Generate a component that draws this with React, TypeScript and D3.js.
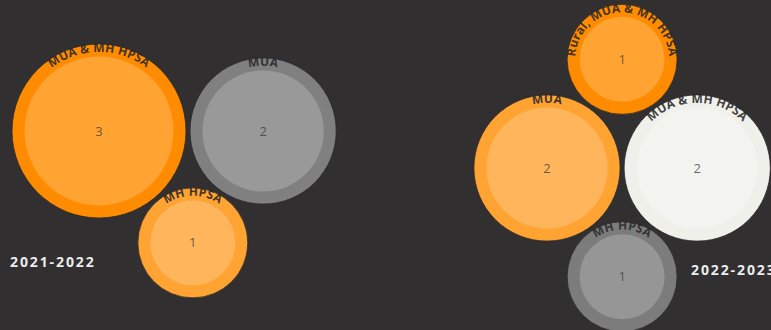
import React from "react";
import * as d3 from "d3";

// ---- data ----
const periods = ["2021-2022", "2022-2023"];
const categories2021 = ["MUA & MH HPSA", "MUA", "MH HPSA"];
const values2021 = [3, 2, 1];
const categories2022 = ["MUA", "MUA & MH HPSA", "MH HPSA", "Rural, MUA & MH HPSA"];
const values2022 = [2, 2, 1, 1];

// ---- styles ----
const palette2021 = ["#ff8c00", "#808080", "#ffa333"];
const palette2022 = ["#ffa333", "#f0f0eb", "#7c7c7c", "#ff8c00"];

const W = 771;
const H = 330;
const BG = "#312f30";
const PAD = 2;
const RING = 12.5;

const rScale = d3.scaleSqrt().domain([1, 3]).range([55, 87]);

type Node = { key: string; value: number; color: string; r: number; x: number; y: number };

function layout(cats: string[], vals: number[], colors: string[], ax: number, ay: number) {
  const nodes: any[] = cats.map((c, i) => ({ key: c, value: vals[i], color: colors[i], r: rScale(vals[i]) + PAD }));
  d3.packSiblings(nodes);
  const dx = ax - nodes[0].x;
  const dy = ay - nodes[0].y;
  return nodes.map((n) => ({ ...n, r: n.r - PAD, x: n.x + dx, y: n.y + dy })) as Node[];
}

function Bubble({ n, id }: { n: Node; id: string }) {
  const R = n.r - 8;
  const path = `M ${n.x},${n.y + R} A ${R},${R} 0 1 1 ${n.x},${n.y - R} A ${R},${R} 0 1 1 ${n.x},${n.y + R}`;
  return (
    <g>
      <circle cx={n.x} cy={n.y} r={n.r} fill={n.color} stroke="#2a2829" strokeWidth={0.8} />
      <circle cx={n.x} cy={n.y} r={n.r - RING} fill="#ffffff" fillOpacity={0.2} />
      <path id={id} d={path} fill="none" />
      <text fontFamily="'Open Sans', sans-serif" fontWeight={700} fontSize={12} letterSpacing={0.2} fill="#2a2829" fillOpacity={0.9}>
        <textPath href={`#${id}`} startOffset="50%" textAnchor="middle">
          {n.key}
        </textPath>
      </text>
      <text x={n.x} y={n.y} dy="0.35em" textAnchor="middle" fontFamily="'Open Sans', sans-serif" fontSize={13} fill="#3a3838" fillOpacity={0.75}>
        {n.value}
      </text>
    </g>
  );
}

export default function App() {
  const left = layout(categories2021, values2021, palette2021, 99, 131);
  const right = layout(categories2022, values2022, palette2022, 547, 168);
  return (
    <svg width={W} height={H} style={{ position: "absolute", left: 0, top: 0, display: "block" }}>
      <rect width={W} height={H} fill={BG} />
      {left.map((n, i) => (
        <Bubble key={"l" + i} n={n} id={"arcL" + i} />
      ))}
      {right.map((n, i) => (
        <Bubble key={"r" + i} n={n} id={"arcR" + i} />
      ))}
      <text x={10} y={267} fontFamily="'Open Sans', sans-serif" fontWeight={700} fontSize={14} letterSpacing={1.9} fill="#ececec">
        {periods[0]}
      </text>
      <text x={691} y={275} fontFamily="'Open Sans', sans-serif" fontWeight={700} fontSize={14} letterSpacing={1.9} fill="#ececec">
        {periods[1]}
      </text>
    </svg>
  );
}
